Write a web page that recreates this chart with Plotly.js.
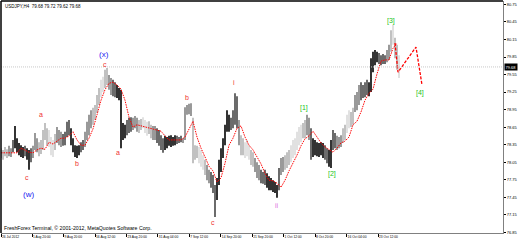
<!DOCTYPE html>
<html><head><meta charset="utf-8">
<script src="https://cdn.plot.ly/plotly-3.0.1.min.js"></script>
<style>html,body{margin:0;padding:0;background:#fff;} #chart{width:522px;height:243px;}</style>
</head><body><div id="chart"></div>
<script>
const symbolHeader = "USDJPY,H4  79.68 79.72 79.62 79.68";
const copyrightText = "FreshForex Terminal, \u00A9 2001-2012, MetaQuotes Software Corp.";

const barHigh = [
78.29,78.26,78.31,78.27,78.33,78.29,78.43,78.67,78.46,78.38,
78.34,78.31,78.33,78.29,78.26,78.29,78.33,78.55,78.46,78.39,
78.43,78.60,78.72,78.63,78.60,78.48,78.43,78.53,78.65,78.60,
78.57,78.53,78.57,78.74,78.77,78.63,78.46,78.34,78.33,78.34,
78.39,78.43,78.57,78.74,78.86,78.94,78.98,79.03,79.20,79.32,
79.46,79.51,79.63,79.66,79.54,79.49,79.46,79.42,79.37,79.32,
79.29,78.72,78.69,78.77,78.81,78.82,78.81,78.84,78.81,78.77,
78.79,78.82,78.77,78.74,78.75,78.69,78.67,78.67,78.63,78.60,
78.51,78.46,78.50,78.48,78.50,78.51,78.48,78.51,78.50,78.48,
78.50,78.46,78.99,79.03,79.05,79.06,78.81,78.34,78.33,78.31,
78.26,78.17,78.09,78.00,77.92,77.88,77.83,77.66,77.78,78.09,
78.29,78.46,78.69,78.94,78.86,78.81,78.94,79.23,79.18,78.77,
78.51,78.46,78.39,78.43,78.34,78.26,78.22,78.12,78.05,78.00,
77.92,77.88,77.92,77.86,77.81,77.78,77.74,77.71,77.66,77.95,
78.12,78.14,78.17,78.22,78.26,78.34,78.43,78.46,78.57,78.65,
78.69,78.72,78.77,78.86,78.81,78.63,78.46,78.43,78.39,78.38,
78.39,78.38,78.34,78.29,78.26,78.43,78.60,78.55,78.50,78.48,
78.51,78.63,78.69,78.86,78.94,78.91,78.98,79.20,79.25,79.37,
79.42,79.37,79.42,79.46,79.42,79.83,79.94,79.97,79.94,79.92,
79.88,79.90,79.88,79.97,80.06,80.31,80.40,80.18,80.06,79.88];

const barLow = [
78.12,78.09,78.15,78.12,78.15,78.14,78.22,78.29,78.22,78.17,
78.14,78.12,78.15,78.09,77.92,78.05,78.12,78.26,78.22,78.15,
78.19,78.26,78.43,78.34,78.31,78.17,78.14,78.26,78.38,78.34,
78.31,78.33,78.34,78.48,78.51,78.34,78.22,78.14,78.12,78.17,
78.22,78.26,78.31,78.43,78.51,78.63,78.69,78.77,78.89,79.03,
79.16,79.25,79.32,79.37,79.29,79.20,79.18,79.16,79.15,79.11,
78.29,78.43,78.46,78.51,78.55,78.57,78.60,78.63,78.57,78.55,
78.60,78.63,78.55,78.50,78.53,78.46,78.43,78.43,78.38,78.33,
78.26,78.21,78.26,78.29,78.33,78.31,78.33,78.34,78.36,78.38,
78.39,78.38,78.43,78.86,78.87,78.84,78.03,78.09,78.12,78.03,
77.97,77.92,77.83,77.74,77.69,77.61,77.52,77.11,77.40,77.66,
77.88,78.12,78.34,78.57,78.57,78.60,78.63,78.69,78.63,78.34,
78.17,78.17,78.12,78.15,78.09,78.00,77.97,77.88,77.78,77.74,
77.69,77.68,77.66,77.61,77.57,77.57,77.54,77.52,77.44,77.57,
77.83,77.88,77.92,77.95,78.00,78.05,78.12,78.17,78.26,78.34,
78.39,78.46,78.46,78.51,78.43,78.09,78.14,78.17,78.15,78.14,
78.17,78.12,78.09,78.03,77.97,77.95,78.26,78.29,78.26,78.29,
78.31,78.38,78.43,78.55,78.63,78.65,78.69,78.91,78.94,79.03,
79.11,79.15,79.16,79.20,79.18,79.25,79.59,79.71,79.76,79.73,
79.71,79.73,79.73,79.76,79.80,79.94,80.06,79.83,79.63,79.49];

const barShade = [
1,1,1,1,2,2,3,4,4,4,
4,4,3,4,4,3,2,2,2,1,
1,1,1,1,0,0,0,1,2,2,
2,3,3,3,3,4,4,4,4,4,
3,3,2,2,2,2,1,1,1,1,
0,0,1,1,2,2,3,3,4,4,
4,4,4,3,3,3,2,2,2,1,
1,0,0,0,1,1,2,2,3,3,
3,3,4,4,4,4,4,4,3,3,
3,2,2,2,2,2,1,1,1,0,
0,0,1,2,2,3,3,3,4,4,
4,4,4,4,4,3,3,3,3,2,
1,1,0,0,0,1,1,2,2,2,
3,3,3,4,4,4,4,4,4,3,
2,2,1,1,1,0,0,0,0,0,
0,1,1,2,2,3,4,4,4,4,
4,4,3,3,4,4,3,3,2,2,
2,1,1,0,0,1,1,2,2,2,
3,3,3,3,4,4,4,4,4,3,
3,3,3,2,2,1,0,1,1,0];

// moving average, one value every second bar
const maValues = [
78.21,78.21,78.21,78.21,78.21,78.29,78.26,78.22,78.21,78.26,
78.29,78.27,78.39,78.36,78.41,78.46,78.46,78.50,78.57,78.43,
78.34,78.34,78.46,78.62,78.86,79.11,79.29,79.40,79.42,79.37,
79.30,79.11,78.82,78.65,78.69,78.67,78.65,78.63,78.62,78.60,
78.58,78.50,78.43,78.43,78.43,78.43,78.48,78.63,78.75,78.48,
78.29,78.14,77.98,77.90,77.71,77.78,78.03,78.34,78.46,78.63,
78.67,78.48,78.34,78.26,78.14,78.02,77.86,77.74,77.73,77.69,
77.62,77.74,77.90,78.03,78.17,78.33,78.45,78.50,78.58,78.48,
78.38,78.31,78.26,78.22,78.29,78.38,78.41,78.48,78.69,78.75,
78.91,79.11,79.23,79.30,79.56,79.78,79.80,79.80,80.00,80.09];

const forecastBars = [197, 198.5, 207.5, 210.5];
const forecastPrices = [80.09, 79.59, 80.02, 79.37];
const lastPrice = 79.68;

const priceTicks = [76.85,77.15,77.45,77.75,78.05,78.35,78.65,78.95,79.25,79.55,79.85,80.15,80.45,80.75];
const timeTickBars = [0, 15.5, 31.2, 47, 62.7, 78.4, 94.1, 109.9, 125.6, 141.3, 157, 172.8, 188.5];
const timeTickLabels = ["26 Jul 2012","1 Aug 20:00","9 Aug 20:00","16 Aug 12:00","23 Aug 20:00","31 Aug 04:00",
  "7 Sep 12:00","14 Sep 20:00","21 Sep 20:00","1 Oct 12:00","8 Oct 20:00","16 Oct 04:00","23 Oct 12:00"];

const waveText  = ["(x)","c","a","b","c","(w)","a","b","c","i","ii","[1]","[2]","[3]","[4]"];
const waveBar   = [51.5, 52, 20, 38, 13, 13.5, 58.5, 93, 106, 116.5, 138, 151.5, 165.5, 195, 209.5];
const wavePrice = [79.90,79.73,78.86,78.02,77.78,77.49,78.21,79.16,77.01,79.42,77.30,78.98,77.85,80.47,79.23];
const waveKind  = ["major","minor","minor","minor","minor","major","minor","minor","minor","minor","sub","wave","wave","wave","wave"];

const shadeColors = ['#dadada','#b2b2b2','#808080','#474747','#000000'];
const kindColors = {major:'#2020f0', minor:'#f03030', sub:'#e070e0', wave:'#22c422'};

const traces = [];
shadeColors.forEach((c, s) => {
  const xs = [], ys = [];
  barHigh.forEach((h, i) => {
    if (barShade[i] === s) { xs.push(i, i, null); ys.push(barLow[i], h, null); }
  });
  traces.push({type:'scatter', mode:'lines', x:xs, y:ys, line:{color:c, width:1.6},
    hoverinfo:'skip', showlegend:false});
});
traces.push({type:'scatter', mode:'lines', x:maValues.map((v,k)=>2*k), y:maValues,
  line:{color:'#ff0000', width:1, dash:'1.5px,1px'}, hoverinfo:'skip', showlegend:false});
traces.push({type:'scatter', mode:'lines', x:forecastBars, y:forecastPrices,
  line:{color:'#ff0000', width:1.3, dash:'3px,1.5px'}, hoverinfo:'skip', showlegend:false});

const annotations = waveText.map((t, i) => ({
  x: waveBar[i], y: wavePrice[i], xref:'x', yref:'y', text: t, showarrow:false,
  xanchor:'center', yanchor:'middle',
  font:{family:'Liberation Sans, Arial, sans-serif', size: waveKind[i]==='major' ? 8 : 7, color: kindColors[waveKind[i]]}
}));
annotations.push({xref:'paper', yref:'paper', x:0, y:1, xanchor:'left', yanchor:'top', xshift:2, yshift:-1,
  text:symbolHeader, showarrow:false, font:{family:'Liberation Sans, Arial', size:4.5, color:'#000'}});
annotations.push({xref:'paper', yref:'paper', x:0, y:0, xanchor:'left', yanchor:'bottom', xshift:1, yshift:0,
  text:copyrightText, showarrow:false, font:{family:'Liberation Sans, Arial', size:5.2, color:'#000'}});
annotations.push({xref:'paper', yref:'y', x:1, y:lastPrice, xanchor:'left', yanchor:'middle', xshift:1,
  text:lastPrice.toFixed(2), showarrow:false, bgcolor:'#000', borderpad:0.5,
  font:{family:'Liberation Sans, Arial', size:4, color:'#fff'}});

const layout = {
  width:522, height:243, margin:{l:1, r:19, t:1, b:10},
  paper_bgcolor:'#fff', plot_bgcolor:'#fff', showlegend:false,
  xaxis:{range:[0,251], showgrid:false, zeroline:false, showline:true, linecolor:'#808080', linewidth:1,
    tickvals:timeTickBars, ticktext:timeTickLabels, ticks:'outside', ticklen:3, tickwidth:1, tickcolor:'#000',
    ticklabelposition:'outside right',
    tickfont:{family:'Liberation Sans, Arial', size:3.3, color:'#000'}, fixedrange:true},
  yaxis:{range:[76.837,80.809], side:'right', showgrid:false, zeroline:false, showline:true, linecolor:'#808080',
    linewidth:1, tickvals:priceTicks, ticktext:priceTicks.map(v=>v.toFixed(2)), ticks:'outside', ticklen:2,
    tickcolor:'#000', tickfont:{family:'Liberation Sans, Arial', size:4, color:'#000'}, fixedrange:true},
  shapes:[
    {type:'line', xref:'paper', yref:'y', x0:0, x1:1, y0:lastPrice, y1:lastPrice, line:{color:'#c8c8c8', width:1, dash:'1px,1px'}},
    {type:'line', xref:'paper', yref:'paper', x0:0, x1:1, y0:1, y1:1, line:{color:'#000', width:1.5}},
    {type:'line', xref:'paper', yref:'paper', x0:0, x1:0, y0:0, y1:1, line:{color:'#000', width:1.5}}
  ],
  annotations: annotations
};
Plotly.newPlot('chart', traces, layout, {staticPlot:true, displayModeBar:false});
</script></body></html>
